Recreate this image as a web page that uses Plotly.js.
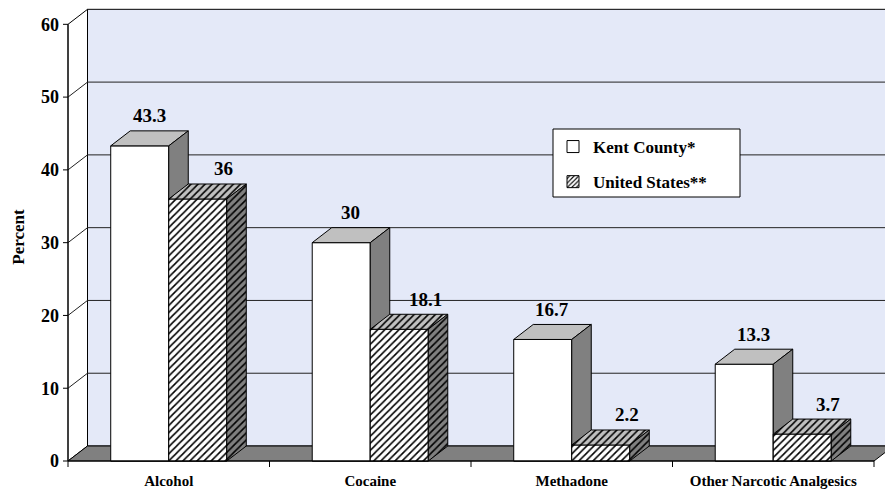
<!DOCTYPE html>
<html>
<head>
<meta charset="utf-8">
<script src="https://cdn.plot.ly/plotly-3.0.1.min.js"></script>
<style>html,body{margin:0;padding:0;background:#fff;}#chart{width:885px;height:493px;}</style>
</head>
<body>
<div id="chart"></div>
<script>
// ---- data ----
const categories = ['Alcohol', 'Cocaine', 'Methadone', 'Other Narcotic Analgesics'];
const kentCounty = [43.3, 30, 16.7, 13.3];
const unitedStates = [36, 18.1, 2.2, 3.7];
const seriesNames = ['Kent County*', 'United States**'];
const yTickValues = [0, 10, 20, 30, 40, 50, 60];
const yMax = 60;

// ---- layout geometry (pixels) ----
const W = 885, H = 493;
const M = {l: 60, r: 0, t: 4, b: 23};
const FRONT_AXIS_PX = 68, ZERO_PX = 461;
const PX_PER_CAT = 201.5, PX_PER_UNIT = 7.278;
const DEPTH_X = 19.5, DEPTH_Y = 15;
const BARGAP = 0.424;
const LEGEND_BOX = {x0: 553, x1: 740, y0: 129, y1: 197};

const xRange = [-0.5 - (FRONT_AXIS_PX - M.l) / PX_PER_CAT, -0.5 + (W - M.r - FRONT_AXIS_PX) / PX_PER_CAT];
const yRange = [-(H - M.b - ZERO_PX) / PX_PER_UNIT, (ZERO_PX - M.t) / PX_PER_UNIT];
const dxd = DEPTH_X / PX_PER_CAT, dyd = DEPTH_Y / PX_PER_UNIT;
const pxX = 1 / PX_PER_CAT, pxY = 1 / PX_PER_UNIT;
const bw = (1 - BARGAP) / 2;
const xLeft = -0.5, xRight = categories.length - 0.5;

const FONT = 'Liberation Serif';
const WALL = '#E4E9F8', LIGHT = '#C0C0C0', DARK = '#808080';

function join(polys) {
  const x = [], y = [];
  polys.forEach((p, k) => {
    if (k) { x.push(null); y.push(null); }
    x.push(...p[0]); y.push(...p[1]);
  });
  return {x, y};
}
function poly(p, fill, pattern) {
  const t = {type: 'scatter', mode: 'lines', x: p.x, y: p.y, fill: 'toself', fillcolor: fill,
    line: {color: '#000', width: 1}, hoverinfo: 'skip', showlegend: false};
  if (pattern) t.fillpattern = pattern;
  return t;
}
function lines(p, color) {
  return {type: 'scatter', mode: 'lines', x: p.x, y: p.y, line: {color: color || '#000', width: 1},
    hoverinfo: 'skip', showlegend: false};
}
function faces(values, side) {
  const front = [], top = [], right = [];
  values.forEach((v, i) => {
    const x0 = i + (side === 0 ? -bw : 0), x1 = x0 + bw;
    front.push([[x0, x1, x1, x0, x0], [0, 0, v, v, 0]]);
    top.push([[x0, x1, x1 + dxd, x0 + dxd, x0], [v, v, v + dyd, v + dyd, v]]);
    right.push([[x1, x1 + dxd, x1 + dxd, x1, x1], [0, dyd, v + dyd, v, 0]]);
  });
  return {front: join(front), top: join(top), right: join(right)};
}

const hatch = bg => ({shape: '/', bgcolor: bg, fgcolor: '#000', size: 5, solidity: 0.32});

const traces = [];
// legend / hidden bars
traces.push({type: 'bar', x: categories.map((c, i) => i), y: kentCounty, name: seriesNames[0], legendgroup: 'a',
  marker: {color: '#fff', line: {color: '#000', width: 1}}});
traces.push({type: 'bar', x: categories.map((c, i) => i), y: unitedStates, name: seriesNames[1], legendgroup: 'b',
  marker: {color: '#fff', line: {color: '#000', width: 1}, pattern: {shape: '/', bgcolor: '#fff', fgcolor: '#000', size: 4, solidity: 0.35}}});

// back wall
traces.push(poly(join([[[xLeft + dxd, xRight + dxd, xRight + dxd, xLeft + dxd, xLeft + dxd], [dyd, dyd, yMax + dyd, yMax + dyd, dyd]]]), WALL));
// side wall
traces.push(poly(join([[[xLeft, xLeft + dxd, xLeft + dxd, xLeft, xLeft], [0, dyd, yMax + dyd, yMax, 0]]]), '#fff'));
// gridlines
const grid = [];
yTickValues.filter(t => t > 0 && t < yMax).forEach(t => {
  grid.push([[xLeft, xLeft + dxd, xRight + dxd], [t, t + dyd, t + dyd]]);
});
traces.push(lines(join(grid), '#222'));
// floor
traces.push(poly(join([[[xLeft, xRight, xRight + dxd, xLeft + dxd, xLeft], [0, 0, dyd, dyd, 0]]]), DARK));

// bars 3D
const k = faces(kentCounty, 0), u = faces(unitedStates, 1);
traces.push(poly(k.front, '#fff'));
traces.push(poly(k.top, LIGHT));
traces.push(poly(k.right, DARK));
traces.push(poly(u.front, '#fff', hatch('#fff')));
traces.push(poly(u.top, LIGHT, hatch(LIGHT)));
traces.push(poly(u.right, DARK, hatch(DARK)));

// front axes lines and ticks
const axisSegs = [[[xLeft, xLeft], [0, yMax]], [[xLeft, xRight], [0, 0]]];
yTickValues.forEach(t => axisSegs.push([[xLeft - 5 * pxX, xLeft], [t, t]]));
for (let i = 0; i <= categories.length; i++) axisSegs.push([[i - 0.5, i - 0.5], [0, -6 * pxY]]);
traces.push(lines(join(axisSegs), '#000'));

// value labels
const annotations = [];
[kentCounty, unitedStates].forEach((vals, s) => {
  vals.forEach((v, i) => {
    const xc = i + (s === 0 ? -bw / 2 : bw / 2) + dxd / 2;
    annotations.push({x: xc, y: v + dyd, xref: 'x', yref: 'y', text: '<b>' + v + '</b>', showarrow: false,
      xanchor: 'center', yanchor: 'middle', xshift: s === 0 ? 0 : 16, yshift: 15,
      font: {family: FONT, size: 19, color: '#000'}});
  });
});

const plotW = W - M.l - M.r, plotH = H - M.t - M.b;
const px2paperX = p => (p - M.l) / plotW;
const px2paperY = p => (H - M.b - p) / plotH;
const layout = {
  width: W, height: H, margin: M,
  paper_bgcolor: '#fff', plot_bgcolor: '#fff',
  barmode: 'group', bargap: BARGAP, bargroupgap: 0,
  showlegend: true,
  legend: {x: px2paperX(LEGEND_BOX.x0), y: px2paperY(LEGEND_BOX.y0), xanchor: 'left', yanchor: 'top',
    bgcolor: 'rgba(0,0,0,0)', borderwidth: 0, tracegroupgap: 10,
    font: {family: FONT, size: 17, color: '#000', weight: 'bold'}},
  shapes: [{type: 'rect', xref: 'paper', yref: 'paper', layer: 'above',
    x0: px2paperX(LEGEND_BOX.x0), x1: px2paperX(LEGEND_BOX.x1), y0: px2paperY(LEGEND_BOX.y1), y1: px2paperY(LEGEND_BOX.y0),
    fillcolor: '#fff', line: {color: '#000', width: 1}}],
  xaxis: {type: 'linear', range: xRange, tickvals: categories.map((c, i) => i), ticktext: categories.map(c => '<b>' + c + '</b>'),
    ticks: '', showgrid: false, zeroline: false, showline: false, fixedrange: true,
    tickfont: {family: FONT, size: 15, color: '#000'}},
  yaxis: {range: yRange, tickvals: yTickValues, ticktext: yTickValues.map(v => '<b>' + v + '</b>'),
    ticks: '', showgrid: false, zeroline: false, showline: false, fixedrange: true,
    tickfont: {family: FONT, size: 18, color: '#000'},
    title: {text: '<b>Percent</b>', font: {family: FONT, size: 17, color: '#000'}, standoff: 12}},
  annotations: annotations
};

Plotly.newPlot('chart', traces, layout, {displayModeBar: false, staticPlot: true});
</script>
</body>
</html>
